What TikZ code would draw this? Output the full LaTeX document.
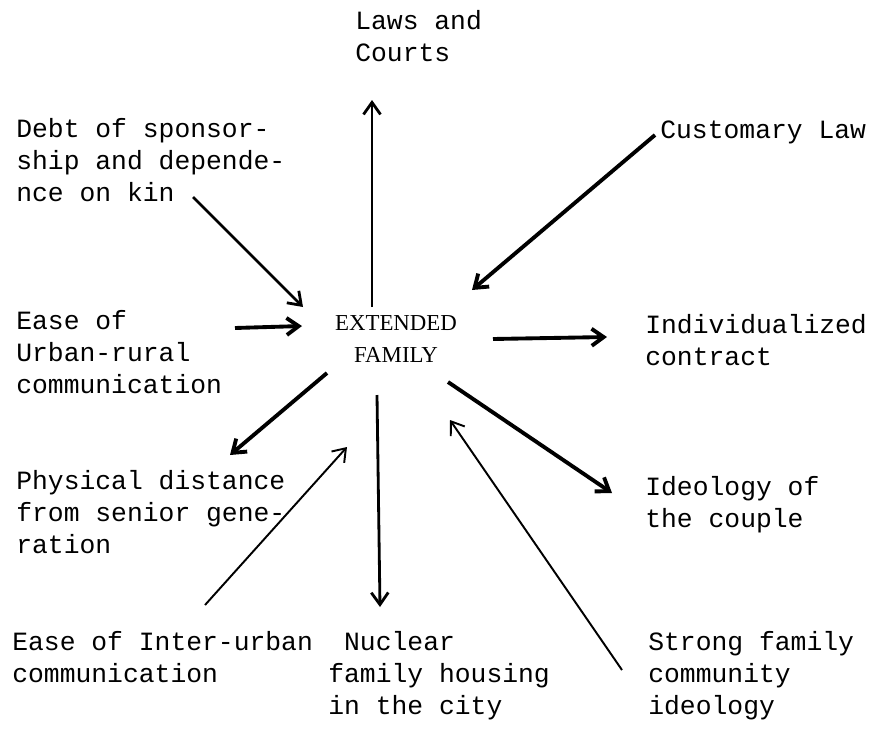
\documentclass[tikz,border=0pt]{standalone}
\usepackage{fontspec}
\setmainfont{Liberation Serif}
\setmonofont{Liberation Mono}
\usetikzlibrary{arrows.meta,positioning}
\tikzstyle{txt} = [font=\ttfamily\fontsize{15}{18.2}\selectfont, align=left, inner sep=0pt, anchor=base west]
\tikzstyle{hub} = [font=\fontsize{13}{18.2}\selectfont, align=center, inner sep=0pt]
\tikzstyle{line} = [draw, -{Straight Barb[length=2.4mm,width=3.4mm]}, line width=1.6pt]
\tikzstyle{heavyline} = [line width=2.2pt]
\tikzstyle{thinline} = [line width=1.1pt]

\begin{document}
\begin{tikzpicture}[x=0.2mm, y=-0.2mm]
	\useasboundingbox (0,0) rectangle (887,728);
	
	\node [hub] (ext) at (396,339) {EXTENDED\\FAMILY};
	
	% factors round the hub (placed at the baseline of their last line)
	\node [txt] (laws) at (355,61) {Laws and\\Courts};
	\node [txt] (debt) at (16,201) {Debt of sponsor-\\ship and depende-\\nce on kin};
	\node [txt] (cust) at (660,138) {Customary Law};
	\node [txt] (urban) at (16,393) {Ease of\\Urban-rural\\communication};
	\node [txt] (indiv) at (645,365) {Individualized\\contract};
	\node [txt] (phys) at (16,553) {Physical distance\\from senior gene-\\ration};
	\node [txt] (ideo) at (645,527) {Ideology of\\the couple};
	\node [txt] (inter) at (12,682) {Ease of Inter-urban\\communication};
	\node [txt] (nucl) at (328,714) {\ Nuclear\\family housing\\in the city};
	\node [txt] (strong) at (648,714) {Strong family\\community\\ideology};
	
	% free ends of the arrows
	\coordinate (laws-pt) at (372,100);
	\coordinate (cust-pt) at (655,135);
	\coordinate (debt-pt) at (193,197);
	\coordinate (urban-pt) at (235,328);
	\coordinate (indiv-pt) at (607,337);
	\coordinate (phys-pt) at (230,455);
	\coordinate (ideo-pt) at (612,493);
	\coordinate (inter-pt) at (205,605);
	\coordinate (nucl-pt) at (380,607);
	\coordinate (strong-pt) at (622,670);
	
	% Draw edges
	\path [line] ([shift={(-24,-32)}]ext.center) -- (laws-pt);
	\path [line, heavyline] (cust-pt) -- ([shift={(76,-49)}]ext.center);
	\path [line] (debt-pt) -- ([shift={(-93,-32)}]ext.center);
	\path [line, heavyline] (urban-pt) -- ([shift={(-94,-13)}]ext.center);
	\path [line, heavyline] ([shift={(97,0)}]ext.center) -- (indiv-pt);
	\path [line, heavyline] ([shift={(-69,34)}]ext.center) -- (phys-pt);
	\path [line, heavyline] ([shift={(52,43)}]ext.center) -- (ideo-pt);
	\path [line, thinline] (inter-pt) -- ([shift={(-49,108)}]ext.center);
	\path [line] ([shift={(-19,56)}]ext.center) -- (nucl-pt);
	\path [line, thinline] (strong-pt) -- ([shift={(54,81)}]ext.center);
	
\end{tikzpicture}
\end{document}
